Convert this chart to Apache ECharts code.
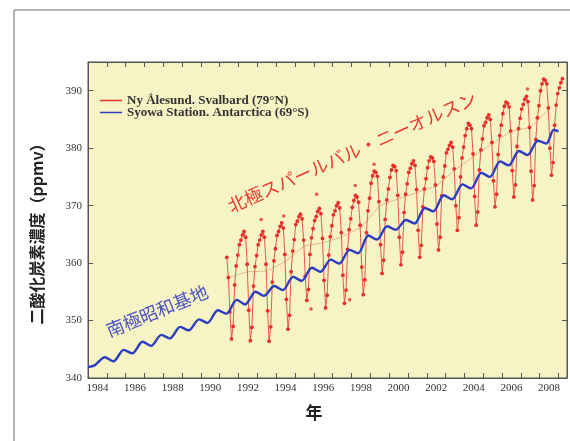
<!DOCTYPE html>
<html>
<head>
<meta charset="utf-8">
<script src="https://cdn.jsdelivr.net/npm/echarts@6/dist/echarts.min.js"></script>
<style>
html,body{margin:0;padding:0;background:#fff;}
#c{width:570px;height:441px;}
</style>
</head>
<body>
<div id="c"></div>
<script>
// ---- Data ----
const legendNames = ['Ny Ålesund. Svalbard (79°N)', 'Syowa Station. Antarctica (69°S)'];
const xLabelYears = [1984, 1986, 1988, 1990, 1992, 1994, 1996, 1998, 2000, 2002, 2004, 2006, 2008];
const xTickYears = [1984,1985,1986,1987,1988,1989,1990,1991,1992,1993,1994,1995,1996,1997,1998,1999,2000,2001,2002,2003,2004,2005,2006,2007,2008,2009];
const yTicks = [340, 350, 360, 370, 380, 390];

// Ny-Alesund monthly values (first row starts in May 1991, last row Jan-Mar 2009)
const nyStart = [1991, 5];
const nyValues = [
  361.0, 357.5, 351.5, 346.8, 349.0, 356.2, 359.5, 361.4,
  363.2, 364.0, 364.9, 365.5, 364.5, 359.8, 351.8, 346.5, 348.8, 356.0, 359.4, 361.3,
  363.2, 364.0, 364.9, 365.5, 364.5, 359.8, 351.7, 346.4, 348.9, 356.7, 360.4, 362.5,
  364.8, 365.5, 366.4, 367.0, 366.1, 361.5, 353.7, 348.5, 350.9, 358.5, 362.1, 364.1,
  366.7, 367.3, 368.1, 368.5, 367.7, 364.0, 357.7, 353.5, 355.4, 361.5, 364.4, 366.0,
  367.4, 368.1, 369.0, 369.5, 368.6, 364.3, 357.0, 352.2, 354.4, 361.4, 364.6, 366.5,
  368.4, 369.1, 370.0, 370.5, 369.6, 365.3, 357.9, 353.0, 355.3, 362.4, 365.8, 367.7,
  369.7, 370.9, 371.8, 371.5, 370.6, 366.6, 359.3, 354.5, 357.1, 365.3, 369.1, 371.3,
  373.9, 375.2, 376.0, 375.8, 375.1, 370.7, 363.2, 358.2, 360.5, 367.6, 371.0, 372.9,
  374.9, 376.2, 377.0, 376.8, 376.1, 371.8, 364.5, 359.7, 361.9, 368.8, 372.0, 373.8,
  375.8, 376.5, 377.3, 377.8, 377.0, 372.8, 365.7, 361.0, 363.1, 369.8, 372.9, 374.7,
  376.6, 377.8, 378.5, 378.3, 377.7, 373.6, 366.8, 362.3, 364.5, 371.7, 375.0, 376.9,
  379.2, 379.8, 380.5, 381.0, 380.2, 376.4, 370.0, 365.7, 367.9, 375.0, 378.3, 380.2,
  382.2, 383.4, 384.3, 384.0, 383.4, 379.0, 371.6, 366.6, 368.9, 376.2, 379.7, 381.6,
  383.9, 384.5, 385.3, 385.8, 385.0, 381.0, 374.3, 369.8, 372.0, 378.9, 382.2, 384.0,
  386.0, 387.3, 388.0, 387.8, 387.2, 383.0, 376.1, 371.5, 373.6, 380.3, 383.4, 385.2,
  386.8, 387.6, 388.5, 389.0, 388.1, 383.6, 376.0, 371.0, 373.5, 381.5, 385.3, 387.4,
  390.0, 391.2, 392.0, 391.8, 391.2, 387.0, 380.0, 375.3, 377.5, 384.0, 387.5, 389.5,
  390.5, 391.4, 392.1
];

// Scattered individual samples that stand out from the monthly curve
const nyOutlierYears = [1993.2, 1996.15, 1995.85, 1997.9, 1998.2, 2007.35, 1994.4, 1999.2];
const nyOutlierValues = [367.6, 372.0, 352.0, 353.6, 373.5, 390.3, 368.2, 377.2];

// Faint Ny-Alesund trend (annual, mid-year)
const nyTrendYears = [1991.5,1992.5,1993.5,1994.5,1995.5,1996.5,1997.5,1998.5,1999.5,2000.5,2001.5,2002.5,2003.5,2004.5,2005.5,2006.5,2007.5,2008.5];
const nyTrendValues = [357.5,358.5,358.6,360.3,363.0,363.5,364.6,366.2,370.0,371.2,372.3,373.4,376.2,378.6,380.8,383.0,383.6,386.8];

// Syowa
const syowaYears = [1984.0,1984.35,1984.9,1985.35,1985.9,1986.35,1986.9,1987.35,1987.9,1988.35,1988.9,1989.35,1989.9,1990.35,1990.9,1991.35,1991.9,1992.35,1992.9,1993.35,1993.9,1994.35,1994.9,1995.35,1995.9,1996.35,1996.9,1997.35,1997.9,1998.35,1998.9,1999.35,1999.9,2000.35,2000.9,2001.35,2001.9,2002.35,2002.9,2003.35,2003.9,2004.35,2004.9,2005.35,2005.9,2006.35,2006.9,2007.35,2007.9,2008.35,2008.75,2009.0];
const syowaValues = [341.9,342.2,343.6,342.9,344.9,344.3,346.3,345.6,347.5,346.9,348.9,348.3,350.2,349.6,351.8,351.2,353.6,352.8,355.0,354.3,356.0,355.3,357.6,356.9,359.2,358.5,360.6,359.9,362.3,361.7,364.8,364.1,366.4,365.8,367.5,366.9,369.6,369.0,371.8,371.1,373.7,373.0,375.7,375.0,377.7,377.0,379.5,378.8,381.3,380.8,383.2,382.9];

// ---- Build series data ----
const nyData = nyValues.map((v, i) => {
  const m = nyStart[1] - 1 + i;
  return [nyStart[0] + (m + 0.5) / 12, v];
});
const nyOutliers = nyOutlierYears.map((t, i) => [t, nyOutlierValues[i]]);
const syowaData = syowaYears.map((t, i) => [t, syowaValues[i]]);
const nyTrendData = nyTrendYears.map((t, i) => [t, nyTrendValues[i]]);

const chart = echarts.init(document.getElementById('c'), null, {renderer: 'canvas'});
const serif = "'Liberation Serif', 'Times New Roman', serif";
const cjk = "'Noto Sans CJK JP', 'Noto Sans', sans-serif";

const axisLineStyle = {color: '#555', width: 1};
chart.setOption({
  backgroundColor: '#ffffff',
  animation: false,
  grid: {left: 88, top: 62, right: 3, bottom: 63, show: true, backgroundColor: '#f6f3c4', borderColor: '#555', borderWidth: 1},
  legend: {
    data: legendNames, orient: 'vertical', left: 100, top: 94, itemGap: -1, padding: 0,
    icon: 'rect', itemWidth: 22, itemHeight: 1.5,
    textStyle: {fontFamily: serif, fontSize: 13, fontWeight: 'bold', color: '#333'}
  },
  xAxis: [{
    type: 'value', min: 1984, max: 2009.45, position: 'bottom',
    axisLine: {show: true, lineStyle: axisLineStyle},
    axisTick: {show: true, inside: true, length: 5, lineStyle: axisLineStyle, customValues: xTickYears},
    axisLabel: {show: true, customValues: xLabelYears.map(y => y + 0.5), formatter: v => String(Math.floor(v)), fontFamily: serif, fontSize: 11, color: '#333', margin: 5},
    splitLine: {show: false}
  }, {
    type: 'value', min: 1984, max: 2009.45, position: 'top',
    axisLine: {show: true, lineStyle: axisLineStyle},
    axisTick: {show: true, inside: true, length: 5, lineStyle: axisLineStyle, customValues: xTickYears},
    axisLabel: {show: false}, splitLine: {show: false}
  }],
  yAxis: [{
    type: 'value', min: 340, max: 395, position: 'left',
    axisLine: {show: true, lineStyle: axisLineStyle},
    axisTick: {show: true, inside: true, length: 5, lineStyle: axisLineStyle, customValues: yTicks},
    axisLabel: {show: true, customValues: yTicks, fontFamily: serif, fontSize: 11, color: '#333', margin: 6},
    splitLine: {show: false}
  }, {
    type: 'value', min: 340, max: 395, position: 'right',
    axisLine: {show: true, lineStyle: axisLineStyle},
    axisTick: {show: true, inside: true, length: 5, lineStyle: axisLineStyle, customValues: yTicks},
    axisLabel: {show: false}, splitLine: {show: false}
  }],
  series: [{
    name: 'trend', type: 'line', data: nyTrendData, symbol: 'none',
    lineStyle: {color: 'rgba(200,110,80,0.55)', width: 0.8}, silent: true, z: 1
  }, {
    name: legendNames[0], type: 'line', data: nyData,
    symbol: 'circle', symbolSize: 3.8, showSymbol: true,
    lineStyle: {color: '#e8473d', width: 0.9},
    itemStyle: {color: '#e8302a'}, z: 2
  }, {
    name: 'samples', type: 'scatter', data: nyOutliers, symbolSize: 3.5,
    itemStyle: {color: '#e8302a'}, z: 2, silent: true
  }, {
    name: legendNames[1], type: 'line', data: syowaData, smooth: 0.3,
    symbol: 'none', lineStyle: {color: '#2b3cc2', width: 2.4},
    itemStyle: {color: '#2b3cc2'}, z: 3
  }],
  graphic: [
    {type: 'line', shape: {x1: 14, y1: 10, x2: 570, y2: 10}, style: {stroke: '#9a9a9a', lineWidth: 1.5}},
    {type: 'line', shape: {x1: 14, y1: 10, x2: 14, y2: 441}, style: {stroke: '#9a9a9a', lineWidth: 1.5}},
    {type: 'text', x: 314, y: 413, style: {text: '年', font: "bold 17px " + cjk, fill: '#222', align: 'center', verticalAlign: 'middle'}},
    {type: 'text', x: 37, y: 230, rotation: Math.PI / 2, style: {text: '二酸化炭素濃度（ppmv）', font: "bold 16px " + cjk, fill: '#222', align: 'center', verticalAlign: 'middle'}},
    {type: 'text', x: 352, y: 152, rotation: 24 * Math.PI / 180, z: 10, style: {text: '北極スパールバル・ニーオルスン', font: "18px " + cjk, fill: '#ea3b2f', align: 'center', verticalAlign: 'middle'}},
    {type: 'text', x: 157, y: 311, rotation: 22 * Math.PI / 180, z: 10, style: {text: '南極昭和基地', font: "18px " + cjk, fill: '#4a52c4', align: 'center', verticalAlign: 'middle'}}
  ]
});
</script>
</body>
</html>
